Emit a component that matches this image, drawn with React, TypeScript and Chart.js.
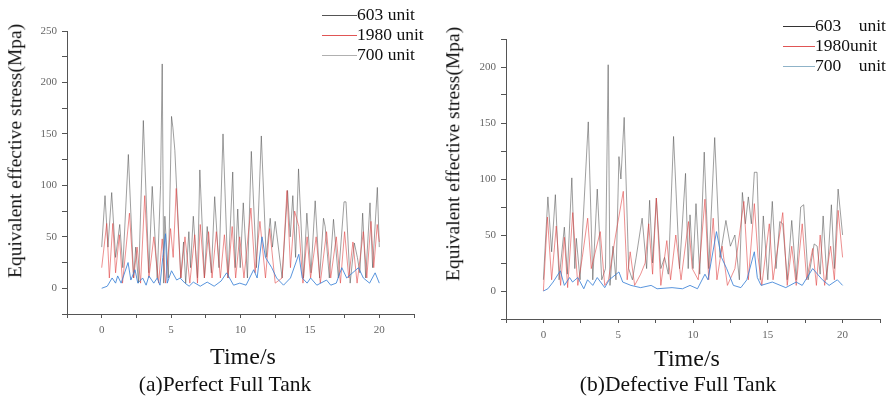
import React, { useEffect, useRef } from 'react';
import { Chart, registerables } from 'chart.js';

Chart.register(...registerables);

const SERIF = '"Liberation Serif", "Times New Roman", serif';

// ---------- (a) Perfect Full Tank ----------
const A_603_T = [0, 0.24, 0.45, 0.72, 1.0, 1.3, 1.52, 1.92, 2.3, 2.45, 2.65, 3.0, 3.4, 3.64, 4.0, 4.24, 4.36, 4.47, 4.55, 4.8, 5.03, 5.13, 5.27, 5.7, 5.9, 6.05, 6.28, 6.4, 6.6, 6.9, 7.07, 7.4, 7.6, 7.9, 8.14, 8.45, 8.74, 9.1, 9.44, 9.62, 9.8, 9.98, 10.2, 10.5, 10.78, 11.15, 11.5, 11.85, 12.14, 12.3, 12.5, 13.0, 13.39, 13.58, 13.77, 13.97, 14.18, 14.54, 14.78, 15.08, 15.38, 15.7, 15.98, 16.1, 16.4, 16.7, 17.05, 17.46, 17.6, 17.9, 18.2, 18.42, 18.6, 18.8, 19.02, 19.33, 19.52, 19.86, 20];
const A_603_V = [40, 90, 40, 93, 30, 62, 20, 130, 10, 40, 5, 163, 15, 99, 10, 100, 218, 5, 70, 10, 167, 156, 134, 10, 45, 5, 55, 20, 70, 10, 115, 10, 60, 15, 89, 20, 150, 10, 113, 20, 77, 20, 83, 10, 133, 20, 148, 30, 68, 40, 65, 10, 95, 50, 90, 30, 116, 10, 73, 15, 85, 10, 68, 60, 10, 67, 10, 84, 84, 5, 44, 30, 15, 73, 10, 83, 20, 98, 40];

const A_1980_T = [0, 0.36, 0.55, 0.8, 1.0, 1.27, 1.5, 2.0, 2.3, 2.55, 2.8, 3.1, 3.4, 3.76, 4.1, 4.36, 4.6, 4.96, 5.15, 5.37, 5.7, 6.0, 6.35, 6.7, 6.9, 7.1, 7.4, 7.7, 7.95, 8.26, 8.55, 8.84, 9.1, 9.4, 9.65, 9.94, 10.25, 10.75, 11.05, 11.4, 11.8, 12.1, 12.5, 13.0, 13.35, 13.6, 13.9, 14.2, 14.5, 14.8, 15.05, 15.45, 15.75, 16.2, 16.5, 16.9, 17.2, 17.5, 17.8, 18.1, 18.4, 18.85, 19.1, 19.4, 19.6, 19.85, 20];
const A_1980_V = [20, 63, 10, 63, 15, 52, 5, 73, 10, 40, 5, 90, 10, 50, 5, 48, 5, 58, 30, 97, 10, 50, 5, 52, 5, 62, 10, 55, 10, 55, 10, 52, 10, 60, 10, 50, 10, 78, 15, 65, 10, 58, 5, 10, 95, 20, 75, 60, 5, 50, 10, 50, 5, 55, 10, 50, 5, 55, 10, 45, 5, 55, 10, 65, 20, 62, 45];

const A_700_T = [0, 0.4, 0.75, 1.0, 1.15, 1.4, 1.9, 2.1, 2.4, 2.6, 2.95, 3.2, 3.4, 3.75, 4.0, 4.2, 4.4, 4.6, 4.72, 5.03, 5.4, 5.65, 6.0, 6.3, 6.6, 7.1, 7.6, 8.1, 8.6, 9.0, 9.5, 9.95, 10.4, 10.95, 11.2, 11.55, 11.8, 12.25, 12.6, 13.1, 13.6, 14.2, 14.45, 14.8, 15.05, 15.5, 16.2, 16.5, 16.9, 17.3, 17.65, 18.5, 18.85, 19.3, 19.7, 20];
const A_700_V = [0, 2, 10, 5, 12, 5, 25, 8, 18, 5, 10, 3, 12, 5, 10, 3, 30, 53, 5, 17, 8, 10, 5, 2, 6, 2, 6, 2, 7, 15, 3, 5, 3, 18, 10, 50, 30, 20, 10, 3, 10, 33, 10, 5, 10, 3, 8, 3, 5, 20, 10, 20, 10, 5, 15, 5];

// ---------- (b) Defective Full Tank ----------
const B_603_T = [0, 0.3, 0.55, 0.8, 1.05, 1.4, 1.6, 1.9, 2.1, 2.2, 2.45, 3.0, 3.3, 3.6, 3.9, 4.15, 4.33, 4.45, 4.65, 4.85, 5.05, 5.18, 5.4, 5.7, 5.95, 6.2, 6.6, 6.9, 7.1, 7.3, 7.55, 7.85, 8.1, 8.35, 8.7, 9.1, 9.5, 9.68, 9.8, 10.0, 10.2, 10.45, 10.75, 11.05, 11.45, 11.8, 12.2, 12.5, 12.8, 13.1, 13.3, 13.5, 13.7, 13.9, 14.1, 14.28, 14.5, 14.7, 15.0, 15.3, 15.55, 15.8, 16.0, 16.3, 16.6, 16.9, 17.2, 17.4, 17.7, 18.1, 18.3, 18.5, 18.7, 18.95, 19.25, 19.45, 19.7, 20];
const B_603_V = [10, 84, 35, 86, 10, 57, 15, 101, 20, 47, 10, 151, 10, 91, 10, 20, 202, 5, 40, 10, 120, 100, 155, 20, 10, 30, 65, 20, 81, 25, 83, 20, 30, 15, 138, 20, 105, 20, 68, 20, 78, 15, 124, 20, 137, 30, 63, 40, 50, 10, 88, 60, 84, 60, 106, 106, 10, 67, 10, 80, 20, 62, 60, 10, 63, 10, 75, 77, 10, 42, 40, 15, 67, 10, 77, 20, 91, 50];

const B_1980_T = [0, 0.27, 0.55, 0.86, 1.15, 1.4, 1.62, 1.96, 2.3, 2.6, 2.96, 3.2, 3.8, 4.1, 4.35, 4.83, 5.34, 5.6, 5.8, 6.1, 6.5, 6.8, 7.04, 7.3, 7.55, 7.85, 8.25, 8.5, 8.85, 9.2, 9.7, 9.95, 10.35, 10.8, 11.05, 11.35, 11.6, 11.95, 12.3, 12.8, 13.1, 13.4, 13.7, 14.1, 14.35, 14.6, 15.1, 15.35, 16.0, 16.3, 16.6, 16.9, 17.3, 17.6, 18.0, 18.25, 18.5, 18.8, 19.2, 19.45, 19.7, 20];
const B_1980_V = [0, 66, 10, 58, 5, 48, 3, 70, 5, 30, 65, 20, 53, 5, 10, 50, 89, 10, 35, 5, 15, 25, 60, 15, 83, 5, 45, 10, 50, 10, 62, 20, 10, 82, 10, 65, 10, 40, 5, 20, 50, 80, 10, 78, 30, 5, 60, 10, 70, 5, 40, 5, 60, 10, 38, 5, 50, 5, 40, 10, 72, 30];

const B_700_T = [0, 0.3, 0.65, 1.13, 1.4, 1.75, 1.95, 2.3, 2.7, 2.95, 3.3, 3.6, 4.1, 4.4, 5.05, 5.3, 5.85, 6.5, 7.2, 7.6, 8.6, 9.3, 9.8, 10.3, 10.8, 11.0, 11.57, 11.9, 12.25, 12.7, 13.2, 13.6, 14.1, 14.3, 14.55, 15.3, 16.2, 16.9, 17.3, 18.0, 18.65, 19.1, 19.65, 20];
const B_700_V = [0, 2, 8, 18, 5, 12, 8, 12, 2, 10, 5, 12, 3, 10, 17, 8, 5, 3, 5, 2, 3, 2, 5, 2, 15, 10, 53, 30, 20, 5, 3, 10, 35, 12, 5, 8, 3, 8, 5, 20, 10, 5, 10, 5];

const X_MIN = -2.5;
const X_MAX = 22.5;
const A_Y_MAX = 250;
const B_Y_MAX = 225;
const Y_MIN = -25;

const COLOR_603 = 'rgba(80,80,80,0.55)';
const COLOR_1980 = 'rgba(225,70,70,0.6)';
const COLOR_700 = 'rgba(60,130,215,0.85)';

type Area = { left: number; top: number; right: number; bottom: number };
type Series = { label: string; t: number[]; v: number[]; color: string; order: number };

function toPoints(t: number[], v: number[]) {
  return t.map((x, i) => ({ x, y: v[i] }));
}

function StressChart(props: { x: number; width: number; area: Area; yMax: number; series: Series[]; tickPad: number }) {
  const ref = useRef<HTMLCanvasElement | null>(null);
  const { width, area, yMax, series, tickPad } = props;
  useEffect(() => {
    if (!ref.current) return;
    const tickFont = { family: SERIF, size: 11 };
    const chart = new Chart(ref.current, {
      type: 'line',
      data: {
        datasets: series.map((s) => ({
          label: s.label,
          data: toPoints(s.t, s.v),
          borderColor: s.color,
          borderWidth: 1,
          pointRadius: 0,
          tension: 0,
          fill: false,
          order: s.order,
        })),
      },
      options: {
        animation: false,
        responsive: false,
        maintainAspectRatio: false,
        layout: { padding: { left: 0, top: area.top, right: width - area.right, bottom: 0 } },
        plugins: { legend: { display: false }, tooltip: { enabled: false } },
        scales: {
          x: {
            type: 'linear',
            min: X_MIN,
            max: X_MAX,
            afterFit: (s: any) => {
              s.height = 406 - area.bottom;
            },
            ticks: {
              stepSize: 2.5,
              autoSkip: false,
              maxRotation: 0,
              padding: tickPad,
              color: '#666',
              font: tickFont,
              callback: (v: any) => (Number(v) % 5 === 0 ? String(v) : ''),
            },
            grid: { drawOnChartArea: false, drawTicks: true, tickLength: 4, color: '#555' },
            border: { display: true, color: '#555', width: 1 },
          },
          y: {
            type: 'linear',
            min: Y_MIN,
            max: yMax,
            afterFit: (s: any) => {
              s.width = area.left;
            },
            ticks: {
              stepSize: 25,
              autoSkip: false,
              padding: 5,
              color: '#666',
              font: tickFont,
              callback: (v: any) => (Number(v) % 50 === 0 ? String(v) : ''),
            },
            grid: { drawOnChartArea: false, drawTicks: true, tickLength: 5, color: '#555' },
            border: { display: true, color: '#555', width: 1 },
          },
        },
      },
    } as any);
    return () => chart.destroy();
  }, []);
  return (
    <canvas
      ref={ref}
      width={width}
      height={406}
      style={{ position: 'absolute', left: props.x, top: 0, width, height: 406, display: 'block' }}
    />
  );
}

function Legend(props: { x: number; lineW: number; y0: number; gap: number; items: { text: string; color: string }[] }) {
  return (
    <>
      {props.items.map((it, i) => (
        <div
          key={i}
          style={{
            position: 'absolute',
            left: props.x,
            top: props.y0 + i * props.gap - 10,
            height: 20,
            display: 'flex',
            alignItems: 'center',
            fontFamily: SERIF,
            fontSize: 17.5,
            color: '#111',
            whiteSpace: 'pre',
            lineHeight: '20px',
          }}
        >
          <span style={{ display: 'inline-block', width: props.lineW, height: 0, borderTop: `1px solid ${it.color}`, marginTop: 2 }} />
          <span>{it.text}</span>
        </div>
      ))}
    </>
  );
}

function Txt(props: { x: number; y: number; size: number; text: string; rotate?: boolean }) {
  return (
    <div
      style={{
        position: 'absolute',
        left: props.x,
        top: props.y,
        transform: `translate(-50%, -50%)${props.rotate ? ' rotate(-90deg)' : ''}`,
        fontFamily: SERIF,
        fontSize: props.size,
        color: '#111',
        whiteSpace: 'nowrap',
        lineHeight: 1,
      }}
    >
      {props.text}
    </div>
  );
}

export default function App() {
  const seriesA: Series[] = [
    { label: '603 unit', t: A_603_T, v: A_603_V, color: COLOR_603, order: 2 },
    { label: '1980 unit', t: A_1980_T, v: A_1980_V, color: COLOR_1980, order: 1 },
    { label: '700 unit', t: A_700_T, v: A_700_V, color: COLOR_700, order: 0 },
  ];
  const seriesB: Series[] = [
    { label: '603 unit', t: B_603_T, v: B_603_V, color: COLOR_603, order: 2 },
    { label: '1980unit', t: B_1980_T, v: B_1980_V, color: COLOR_1980, order: 1 },
    { label: '700 unit', t: B_700_T, v: B_700_V, color: COLOR_700, order: 0 },
  ];
  return (
    <div style={{ position: 'absolute', left: 0, top: 0, width: 893, height: 406, background: '#fff', overflow: 'hidden' }}>
      <StressChart x={0} width={440} area={{ left: 67, top: 31, right: 414, bottom: 314 }} yMax={A_Y_MAX} series={seriesA} tickPad={6} />
      <StressChart x={440} width={453} area={{ left: 66, top: 39, right: 440, bottom: 319 }} yMax={B_Y_MAX} series={seriesB} tickPad={6} />

      <Legend
        x={322}
        lineW={35}
        y0={14}
        gap={20}
        items={[
          { text: '603 unit', color: '#555' },
          { text: '1980 unit', color: '#e05555' },
          { text: '700 unit', color: '#b0b0b0' },
        ]}
      />
      <Legend
        x={783}
        lineW={32}
        y0={25}
        gap={20}
        items={[
          { text: '603    unit', color: '#333' },
          { text: '1980unit', color: '#e05555' },
          { text: '700    unit', color: '#8fb3c8' },
        ]}
      />

      <Txt x={15} y={151} size={19.5} text="Equivalent effective stress(Mpa)" rotate />
      <Txt x={453} y={154} size={19.5} text="Equivalent effective stress(Mpa)" rotate />
      <Txt x={243} y={356} size={24} text="Time/s" />
      <Txt x={687} y={358} size={24} text="Time/s" />
      <Txt x={225} y={385} size={21.5} text="(a)Perfect Full Tank" />
      <Txt x={678} y={385} size={21.5} text="(b)Defective Full Tank" />
    </div>
  );
}
